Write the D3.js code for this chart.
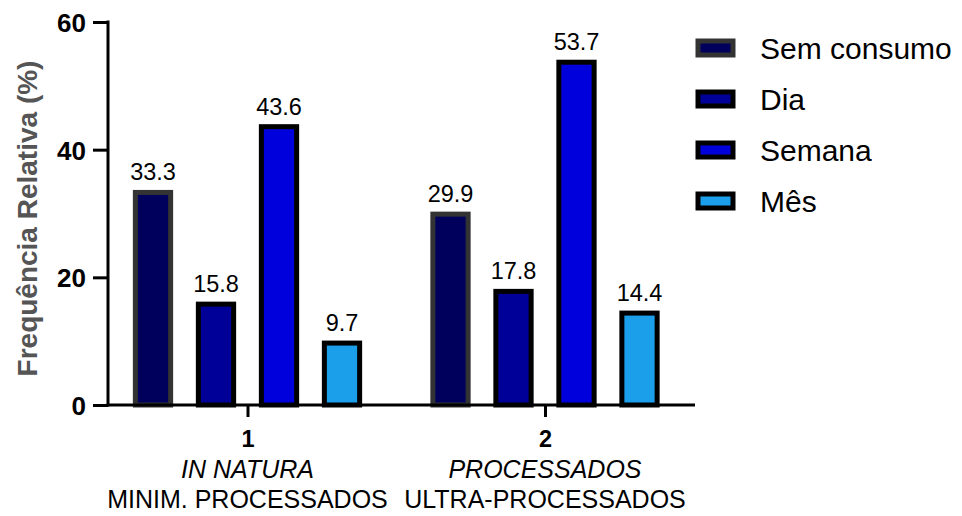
<!DOCTYPE html>
<html>
<head>
<meta charset="utf-8">
<script src="https://cdn.jsdelivr.net/npm/d3@7"></script>
<style>
  body { margin: 0; background: #fff; }
  svg { font-family: "Liberation Sans", Arial, sans-serif; }
</style>
</head>
<body>
<div id="chart"></div>
<script>
// Data
const groups = ['1', '2'];
const groupLine1 = ['IN NATURA', 'PROCESSADOS'];
const groupLine2 = ['MINIM. PROCESSADOS', 'ULTRA-PROCESSADOS'];
const series = ['Sem consumo', 'Dia', 'Semana', 'Mês'];
const values = [
  [33.3, 15.8, 43.6, 9.7],
  [29.9, 17.8, 53.7, 14.4]
];
const yTicks = [0, 20, 40, 60];

const fills = ['#00005c', '#000099', '#0000dd', '#1c9fea'];
const strokes = ['#333333', '#000000', '#000000', '#000000'];

const width = 962, height = 516;
const svg = d3.select('#chart').append('svg')
  .attr('width', width)
  .attr('height', height);

const y = d3.scaleLinear().domain([0, 60]).range([405, 22]);
const x0 = d3.scalePoint().domain(groups).range([247.5, 545]);
const x1 = d3.scaleBand().domain(series).range([-126, 126])
  .paddingInner(0.44).paddingOuter(0.22);

// Bars
const gGroups = svg.selectAll('.group')
  .data(groups)
  .enter().append('g')
  .attr('class', 'group')
  .attr('transform', d => 'translate(' + x0(d) + ',0)');

gGroups.each(function(g, gi) {
  const sel = d3.select(this);
  sel.selectAll('rect')
    .data(values[gi])
    .enter().append('rect')
    .attr('x', (v, i) => x1(series[i]))
    .attr('y', v => y(v))
    .attr('width', x1.bandwidth())
    .attr('height', v => y(0) - y(v))
    .style('fill', (v, i) => fills[i])
    .style('stroke', (v, i) => strokes[i])
    .style('stroke-width', 5);
  sel.selectAll('.val')
    .data(values[gi])
    .enter().append('text')
    .attr('class', 'val')
    .attr('x', (v, i) => x1(series[i]) + x1.bandwidth() / 2)
    .attr('y', v => y(v) - 12)
    .attr('text-anchor', 'middle')
    .style('font-size', '23.5px')
    .style('fill', '#000')
    .text(v => v.toFixed(1));
});

// Y axis
const yAxis = svg.append('g')
  .attr('transform', 'translate(108,0)')
  .call(d3.axisLeft(y).tickValues(yTicks).tickSize(15).tickPadding(7).tickSizeOuter(0));
yAxis.select('.domain').style('stroke-width', 3).attr('d', 'M0,' + (y(0) + 1.5) + 'V' + (y(60) - 1.5));
yAxis.selectAll('.tick line').style('stroke-width', 3);
yAxis.selectAll('.tick text')
  .style('font-size', '26px')
  .style('font-weight', 'bold')
  .attr('dy', '0.36em');

// X axis
const xAxis = svg.append('g')
  .attr('transform', 'translate(0,' + y(0) + ')')
  .call(d3.axisBottom(x0).tickSize(12).tickPadding(13).tickSizeOuter(0));
xAxis.select('.domain').style('stroke-width', 3).attr('d', 'M106.5,0H695');
xAxis.selectAll('.tick line').style('stroke-width', 3);
xAxis.selectAll('.tick text')
  .style('font-size', '23.5px')
  .style('font-weight', 'bold');

svg.selectAll('.glabel1')
  .data(groups)
  .enter().append('text')
  .attr('x', d => x0(d))
  .attr('y', 478)
  .attr('text-anchor', 'middle')
  .style('font-size', '25px')
  .style('font-style', 'italic')
  .text((d, i) => groupLine1[i]);

svg.selectAll('.glabel2')
  .data(groups)
  .enter().append('text')
  .attr('x', d => x0(d))
  .attr('y', 508)
  .attr('text-anchor', 'middle')
  .style('font-size', '25px')
  .text((d, i) => groupLine2[i]);

// Y title
svg.append('text')
  .attr('transform', 'translate(37,' + (y(30) + 5) + ') rotate(-90)')
  .attr('text-anchor', 'middle')
  .style('font-size', '28px')
  .style('font-weight', 'bold')
  .style('fill', '#555')
  .text('Frequência Relativa (%)');

// Legend
const legend = svg.selectAll('.legend')
  .data(series)
  .enter().append('g')
  .attr('class', 'legend')
  .attr('transform', (d, i) => 'translate(698,' + (48 + i * 51) + ')');
legend.append('rect')
  .attr('x', 0)
  .attr('y', -7)
  .attr('width', 35)
  .attr('height', 14)
  .style('fill', (d, i) => fills[i])
  .style('stroke', (d, i) => strokes[i])
  .style('stroke-width', 5);
legend.append('text')
  .attr('x', 62)
  .attr('y', 0)
  .attr('dy', '0.36em')
  .style('font-size', '30px')
  .text(d => d);
</script>
</body>
</html>
